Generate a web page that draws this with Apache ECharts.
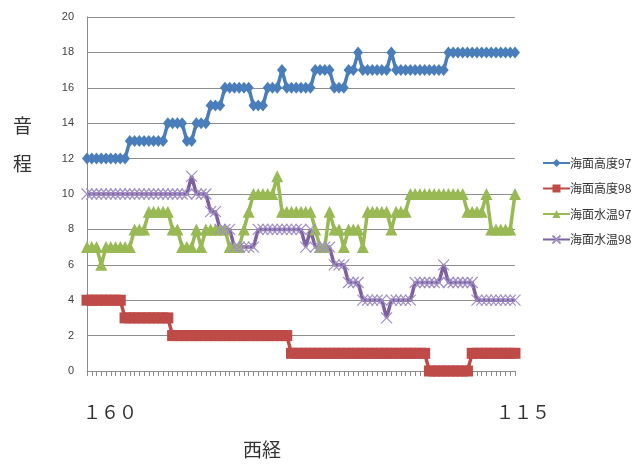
<!DOCTYPE html>
<html>
<head>
<meta charset="utf-8">
<script src="https://cdn.jsdelivr.net/npm/echarts@6/dist/echarts.min.js"></script>
<style>
  html, body { margin: 0; padding: 0; background: #fff; }
  #main { width: 641px; height: 465px; }
</style>
</head>
<body>
<div id="main"></div>
<script>
// 西経 160 → 115（0.5度刻み）
var longitudes = [
  160, 159.5, 159, 158.5, 158, 157.5, 157, 156.5, 156, 155.5,
  155, 154.5, 154, 153.5, 153, 152.5, 152, 151.5, 151, 150.5,
  150, 149.5, 149, 148.5, 148, 147.5, 147, 146.5, 146, 145.5,
  145, 144.5, 144, 143.5, 143, 142.5, 142, 141.5, 141, 140.5,
  140, 139.5, 139, 138.5, 138, 137.5, 137, 136.5, 136, 135.5,
  135, 134.5, 134, 133.5, 133, 132.5, 132, 131.5, 131, 130.5,
  130, 129.5, 129, 128.5, 128, 127.5, 127, 126.5, 126, 125.5,
  125, 124.5, 124, 123.5, 123, 122.5, 122, 121.5, 121, 120.5,
  120, 119.5, 119, 118.5, 118, 117.5, 117, 116.5, 116, 115.5, 115
];
var endLabels = ['１６０', '１１５'];
var seriesNames = ['海面高度97', '海面高度98', '海面水温97', '海面水温98'];

var height97 = [
  12, 12, 12, 12, 12, 12, 12, 12, 12,
  13, 13, 13, 13, 13, 13, 13, 13,
  14, 14, 14, 14,
  13, 13,
  14, 14, 14,
  15, 15, 15,
  16, 16, 16, 16, 16, 16,
  15, 15, 15,
  16, 16, 16,
  17,
  16, 16, 16, 16, 16, 16,
  17, 17, 17, 17,
  16, 16, 16,
  17, 17,
  18,
  17, 17, 17, 17, 17, 17,
  18,
  17, 17, 17, 17, 17, 17, 17, 17, 17, 17, 17,
  18, 18, 18, 18, 18, 18, 18, 18, 18, 18, 18, 18, 18, 18, 18
];
var height98 = [
  4, 4, 4, 4, 4, 4, 4, 4,
  3, 3, 3, 3, 3, 3, 3, 3, 3, 3,
  2, 2, 2, 2, 2, 2, 2, 2, 2, 2, 2, 2, 2, 2, 2, 2, 2, 2, 2, 2, 2, 2, 2, 2, 2,
  1, 1, 1, 1, 1, 1, 1, 1, 1, 1, 1, 1, 1, 1, 1, 1, 1, 1, 1, 1, 1, 1, 1, 1, 1, 1, 1, 1, 1,
  0, 0, 0, 0, 0, 0, 0, 0, 0,
  1, 1, 1, 1, 1, 1, 1, 1, 1, 1
];
var temp97 = [
  7, 7, 7,
  6,
  7, 7, 7, 7, 7, 7,
  8, 8, 8,
  9, 9, 9, 9, 9,
  8, 8,
  7, 7, 7,
  8,
  7,
  8, 8, 8, 8, 8,
  7, 7, 7,
  8,
  9,
  10, 10, 10, 10, 10,
  11,
  9, 9, 9, 9, 9, 9, 9,
  8,
  7, 7,
  9,
  8, 8,
  7,
  8, 8, 8,
  7,
  9, 9, 9, 9, 9,
  8,
  9, 9, 9,
  10, 10, 10, 10, 10, 10, 10, 10, 10, 10, 10, 10,
  9, 9, 9, 9,
  10,
  8, 8, 8, 8, 8,
  10
];
var temp98 = [
  10, 10, 10, 10, 10, 10, 10, 10, 10, 10, 10, 10, 10, 10, 10, 10, 10, 10, 10, 10, 10, 10,
  11,
  10, 10, 10,
  9, 9,
  8, 8, 8,
  7, 7, 7, 7, 7,
  8, 8, 8, 8, 8, 8, 8, 8, 8, 8,
  7,
  8,
  7, 7, 7, 7,
  6, 6, 6,
  5, 5, 5,
  4, 4, 4, 4, 4,
  3,
  4, 4, 4, 4, 4,
  5, 5, 5, 5, 5, 5,
  6,
  5, 5, 5, 5, 5, 5,
  4, 4, 4, 4, 4, 4, 4, 4, 4
];

var myChart = echarts.init(document.getElementById('main'));

var gridColor = '#8c8c8c';
var textFont = '"Noto Sans CJK JP", "Noto Sans", sans-serif';
var crossPath = 'path://M0,0L10,10M10,0L0,10';

function makeLine(name, data, color, symbol, size, extraStyle) {
  return {
    name: name,
    type: 'line',
    data: data,
    symbol: symbol,
    symbolSize: size,
    showSymbol: true,
    showAllSymbol: true,
    lineStyle: { color: color, width: 3.5 },
    itemStyle: extraStyle || { color: color },
    animation: false
  };
}

var option = {
  backgroundColor: '#fff',
  grid: { left: 87, right: 126, top: 17, bottom: 94, containLabel: false },
  xAxis: {
    type: 'category',
    data: longitudes,
    boundaryGap: false,
    axisLine: { lineStyle: { color: gridColor, width: 1 } },
    axisTick: { show: true, interval: 0, length: 5, lineStyle: { color: gridColor } },
    axisLabel: { show: false },
    splitLine: { show: false }
  },
  yAxis: {
    type: 'value',
    min: 0,
    max: 20,
    interval: 2,
    axisLine: { show: true, lineStyle: { color: gridColor } },
    axisTick: { show: false },
    axisLabel: { fontSize: 11, color: '#404040', margin: 13, fontFamily: 'Liberation Sans, sans-serif' },
    splitLine: { lineStyle: { color: gridColor, width: 1 } }
  },
  legend: {
    orient: 'vertical',
    left: 537,
    top: 152,
    itemWidth: 27,
    itemHeight: 10,
    itemGap: 13.5,
    data: seriesNames,
    textStyle: { fontSize: 12, color: '#333', fontFamily: textFont, padding: [0, 0, 0, -5] }
  },
  graphic: [
    { type: 'text', left: 13, top: 116, style: { text: '音', fontSize: 19, fill: '#333', fontFamily: textFont } },
    { type: 'text', left: 13, top: 154, style: { text: '程', fontSize: 19, fill: '#333', fontFamily: textFont } },
    { type: 'text', left: 83, top: 403, style: { text: endLabels[0], fontSize: 18, fill: '#333', fontFamily: textFont } },
    { type: 'text', left: 496, top: 403, style: { text: endLabels[1], fontSize: 18, fill: '#333', fontFamily: textFont } },
    { type: 'text', left: 243, top: 440, style: { text: '西経', fontSize: 19, fill: '#333', fontFamily: textFont } }
  ],
  series: [
    makeLine(seriesNames[0], height97, '#4a7ebb', 'diamond', [10, 12]),
    makeLine(seriesNames[1], height98, '#be4b48', 'rect', 11),
    makeLine(seriesNames[2], temp97, '#98b954', 'triangle', 12),
    makeLine(seriesNames[3], temp98, '#7d60a0', crossPath, 11,
      { color: 'rgba(0,0,0,0)', borderColor: '#a08ec4', borderWidth: 1.2 })
  ]
};

myChart.setOption(option);
</script>
</body>
</html>
